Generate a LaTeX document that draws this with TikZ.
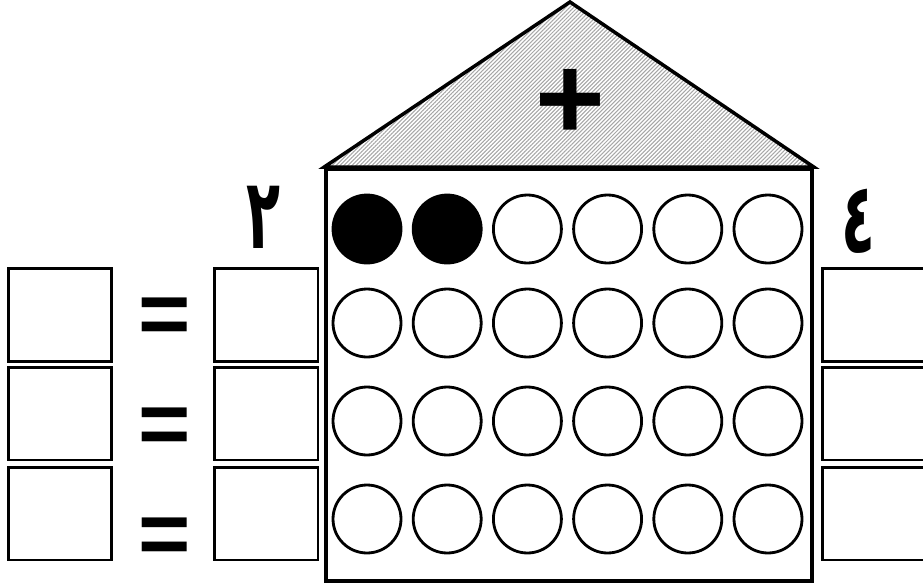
\documentclass[tikz,border=0pt]{standalone}
\usepackage{fontspec}
\usepackage{tikz}
\usetikzlibrary{patterns.meta}
\TeXXeTstate=1
\newfontfamily\arabicfont[Script=Arabic]{DejaVu Sans}
\newfontfamily\signfont{Liberation Sans}
\tikzset{
  answerbox/.style={draw, line width=1.7pt, minimum width=2.08cm, minimum height=1.86cm, inner sep=0pt, outer sep=0pt},
  counter/.style={draw, circle, line width=1.6pt, minimum size=1.36cm, inner sep=0pt},
  sign/.style={font=\signfont\bfseries\fontsize{51}{51}\selectfont, inner sep=0pt},
  digit/.style={font=\arabicfont\bfseries\fontsize{44}{44}\selectfont, inner sep=0pt}
}

\begin{document}
\begin{tikzpicture}[x=0.02cm, y=-0.02cm]
  \useasboundingbox (0,0) rectangle (923,585);
  \node[draw, line width=2.2pt, minimum width=9.72cm, minimum height=8.24cm, inner sep=0pt] (house) at (569,375) {};
  \coordinate (apex) at (570,2);
  \draw[line width=2pt, pattern={Lines[angle=45, distance=1.6pt, line width=0.6pt]}, pattern color=gray!70]
    (house.north west) -- (apex) -- (house.north east) -- cycle;
  \node[sign, font=\signfont\bfseries\fontsize{68}{68}\selectfont] (plus) at (570,104) {+};
  \foreach \c/\f in {1/black,2/black,3/white,4/white,5/white,6/white}
    \node[counter, fill=\f] (c1\c) at ({367+80.2*(\c-1)},229) {};
  \foreach \r/\yy in {2/323,3/421,4/519}
    \foreach \c in {1,...,6}
      \node[counter] (c\r\c) at ({367+80.2*(\c-1)},\yy) {};
  \node[digit] (tenslabel) at (263,217) {\scalebox{0.72}[1.27]{\beginR ٢\endR}};
  \node[digit] (oneslabel) at (858,221) {\scalebox{0.72}[1.27]{\beginR ٤\endR}};
  \foreach \r/\yy/\ey in {1/315/321,2/413.5/431,3/513.5/541} {
    \node[answerbox] (sum\r) at (60,\yy) {};
    \node[sign] (eq\r) at (164.5,\ey) {=};
    \node[answerbox] (tens\r) at (266,\yy) {};
    \node[answerbox] (ones\r) at (874,\yy) {};
  }
\end{tikzpicture}
\end{document}
